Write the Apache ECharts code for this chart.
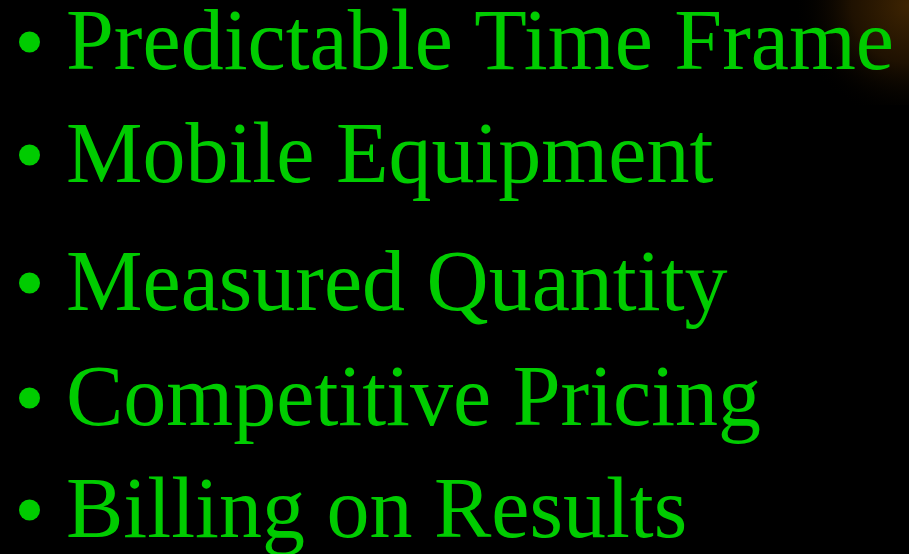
<!DOCTYPE html>
<html>
<head>
<meta charset="utf-8">
<script src="https://cdn.jsdelivr.net/npm/echarts@6/dist/echarts.min.js"></script>
<style>
html, body { margin: 0; padding: 0; background: #000; }
#chart1 { width: 909px; height: 554px; }
</style>
</head>
<body>
<div id="chart1"></div>
<script>
// slide bullets, top to bottom
var bulletItems = [
    "Predictable Time Frame",
    "Mobile Equipment",
    "Measured Quantity",
    "Competitive Pricing",
    "Billing on Results"
]

// layout only: text baselines in px
var baselineY = [71, 184, 312, 427, 539]

var textColor = "#00cc00"
var fontSize = 86
var textX = 66
var bulletX = 29.5

var slide = echarts.init(document.querySelector("#chart1"), null, { renderer: "canvas" })

var elements = [{
    // warm glow in the top right corner
    type: "rect",
    shape: { x: 790, y: 0, width: 119, height: 105 },
    style: {
        fill: {
            type: "radial",
            x: 1, y: 0.05, r: 1.1,
            colorStops: [
                { offset: 0, color: "rgba(62,36,2,1)" },
                { offset: 0.5, color: "rgba(34,19,1,0.9)" },
                { offset: 1, color: "rgba(0,0,0,0)" }
            ]
        }
    },
    silent: true
}]

bulletItems.forEach(function (item, i) {
    var base = baselineY[i]
    elements.push({
        type: "circle",
        shape: { cx: bulletX, cy: base - 29, r: 10.5 },
        style: { fill: textColor }
    })
    elements.push({
        type: "text",
        x: textX,
        y: base - 25,
        style: {
            text: item,
            fill: textColor,
            font: fontSize + "px 'Liberation Serif', 'DejaVu Serif', serif",
            verticalAlign: "middle",
            align: "left"
        }
    })
})

var slideOption = {
    backgroundColor: "#000000",
    animation: false,
    graphic: { elements: elements }
}

slide.setOption(slideOption)
</script>
</body>
</html>
